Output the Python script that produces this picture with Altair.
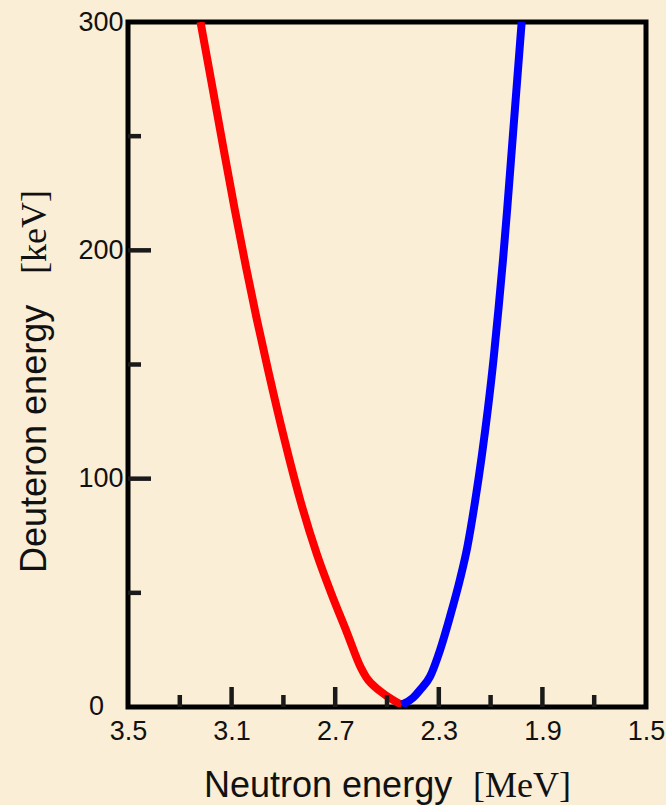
import altair as alt
import pandas as pd

# --- data ---
red_E = [3.220, 3.175, 3.132, 3.088, 3.045, 3.003, 2.958, 2.900, 2.836, 2.771, 2.716, 2.656, 2.600, 2.580, 2.527, 2.476, 2.443]
red_D = [300.0, 272.0, 245.0, 218.0, 193.0, 170.0, 147.0, 119.0, 91.0, 67.0, 50.0, 33.0, 17.0, 13.0, 7.0, 3.0, 1.0]
blue_E = [2.443, 2.400, 2.373, 2.334, 2.295, 2.257, 2.218, 2.190, 2.160, 2.134, 2.110, 2.088, 2.069, 2.052, 2.036, 2.021, 2.006, 1.993, 1.980]
blue_D = [1.0, 4.0, 7.4, 13.3, 25.0, 39.5, 56.0, 70.0, 90.0, 110.0, 131.0, 153.0, 175.0, 196.0, 218.0, 240.0, 262.0, 281.0, 300.0]

x_labels = [3.5, 3.1, 2.7, 2.3, 1.9, 1.5]
x_major_ticks = [3.1, 2.7, 2.3, 1.9]
x_minor_ticks = [3.3, 2.9, 2.5, 2.1, 1.7]
y_labels = [100, 200, 300]
y_zero_label = [0]
y_major_ticks = [100, 200]
y_minor_ticks = [50, 150, 250]

x_title_sans = "Neutron energy"
x_title_serif = "[MeV]"
y_title_sans = "Deuteron energy"
y_title_serif = "[keV]"

W, H = 518, 685
BG = "#FAEED6"
LBL = 27

rows = []
for i, (e, d) in enumerate(zip(red_E, red_D)):
    rows.append({"E": e, "D": d, "s": "red", "i": i})
for i, (e, d) in enumerate(zip(blue_E, blue_D)):
    rows.append({"E": e, "D": d, "s": "blue", "i": i})
df = pd.DataFrame(rows)

xs = alt.Scale(domain=[1.5, 3.5], reverse=True, nice=False, zero=False)
ys = alt.Scale(domain=[0, 300], nice=False, zero=True)

x_axis = alt.Axis(
    values=x_labels, format=".1f", title=None, ticks=False, tickSize=0, domain=False,
    grid=False, labelFont="Liberation Sans", labelFontSize=LBL, labelColor="#111",
    labelPadding=11, labelFlush=False)
y_axis = alt.Axis(
    values=y_labels, format="d", title=None, ticks=False, tickSize=0, domain=False,
    grid=False, labelFont="Liberation Sans", labelFontSize=LBL, labelColor="#111",
    labelPadding=5, labelFlush=False)

lines = alt.Chart(df).mark_line(strokeWidth=8, clip=True, interpolate="monotone").encode(
    x=alt.X("E:Q", scale=xs, axis=x_axis),
    y=alt.Y("D:Q", scale=ys, axis=y_axis),
    color=alt.Color("s:N", scale=alt.Scale(domain=["red", "blue"], range=["#FF0000", "#0000FF"]), legend=None),
    detail="s:N",
    order="i:Q",
)

tick_color = "#1a1a1a"
xmaj = alt.Chart(pd.DataFrame({"E": x_major_ticks})).mark_rule(color=tick_color, strokeWidth=4.5).encode(
    x=alt.X("E:Q", scale=xs, axis=x_axis), y=alt.value(H), y2=alt.value(H - 20))
xmin = alt.Chart(pd.DataFrame({"E": x_minor_ticks})).mark_rule(color=tick_color, strokeWidth=4.5).encode(
    x=alt.X("E:Q", scale=xs, axis=x_axis), y=alt.value(H), y2=alt.value(H - 12))
ymaj = alt.Chart(pd.DataFrame({"D": y_major_ticks})).mark_rule(color=tick_color, strokeWidth=4.5).encode(
    y=alt.Y("D:Q", scale=ys, axis=y_axis), x=alt.value(0), x2=alt.value(23))
ymin = alt.Chart(pd.DataFrame({"D": y_minor_ticks})).mark_rule(color=tick_color, strokeWidth=4.5).encode(
    y=alt.Y("D:Q", scale=ys, axis=y_axis), x=alt.value(0), x2=alt.value(13))

zero_lbl = alt.Chart(pd.DataFrame({"D": y_zero_label})).mark_text(
    font="Liberation Sans", fontSize=LBL, align="right", baseline="middle", color="#111"
).encode(y=alt.Y("D:Q", scale=ys, axis=y_axis), x=alt.value(-24), text=alt.Text("D:Q", format="d"))

def txt(s, font, x, y, angle=0):
    return alt.Chart(pd.DataFrame({"t": [s]})).mark_text(
        font=font, fontSize=36, align="left", baseline="alphabetic", angle=angle, color="#111"
    ).encode(text="t:N", x=alt.value(x), y=alt.value(y))

xt1 = txt(x_title_sans, "Liberation Sans", 76, 775)
xt2 = txt(x_title_serif, "Liberation Serif", 345, 775)
yt1 = txt(y_title_sans, "Liberation Sans", -82, 551, angle=270)
yt2 = txt(y_title_serif, "Liberation Serif", -82, 252, angle=270)

chart = alt.layer(lines, xmaj, xmin, ymaj, ymin, zero_lbl, xt1, xt2, yt1, yt2).properties(
    width=W, height=H,
    padding={"left": 128, "top": 22, "right": 20, "bottom": 98},
    autosize=alt.AutoSizeParams(type="none"),
    background=BG,
).configure_view(stroke="#000", strokeWidth=5)

chart.save("out.html", embed_options={"renderer": "svg", "actions": False})
